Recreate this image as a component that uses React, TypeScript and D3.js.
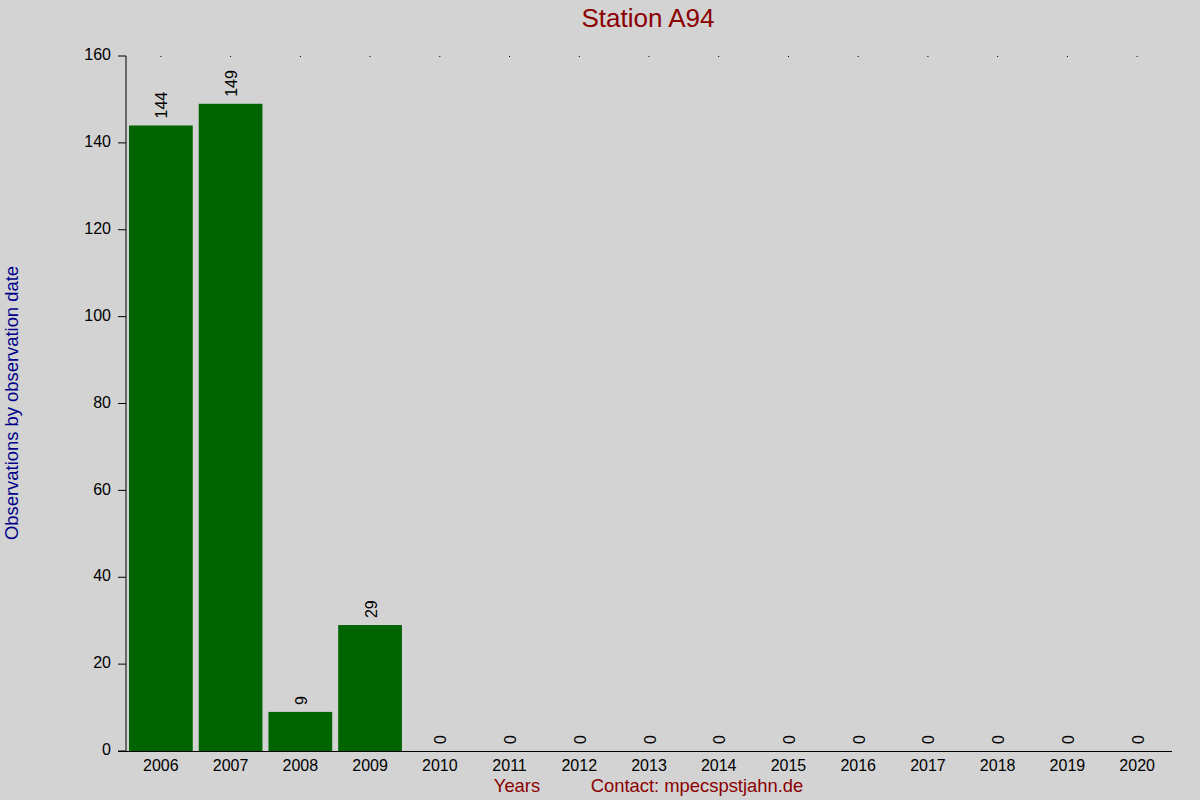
import React from "react";
import * as d3 from "d3";

const years = ["2006","2007","2008","2009","2010","2011","2012","2013","2014","2015","2016","2017","2018","2019","2020"];
const counts = [144, 149, 9, 29, 0, 0, 0, 0, 0, 0, 0, 0, 0, 0, 0];
const yTicks = [0, 20, 40, 60, 80, 100, 120, 140, 160];

const W = 1200, H = 800;
const left = 126, right = 1172, top = 56, bottom = 751;
const FONT = "'Liberation Sans', Arial, sans-serif";

export default function App() {
  const x = d3.scaleBand<string>().domain(years).range([left, right]).paddingInner(0.086).paddingOuter(0.043);
  const y = d3.scaleLinear().domain([0, 160]).range([bottom, top]);
  return (
    <svg width={W} height={H} style={{ position: "absolute", left: 0, top: 0, display: "block" }} fontFamily={FONT}>
      <rect x={0} y={0} width={W} height={H} fill="#d3d3d3" />
      <text x={648} y={27} textAnchor="middle" fontSize={26} fill="#8b0000">Station A94</text>
      {years.map((yr, i) => {
        const bx = x(yr)!;
        const cx = bx + x.bandwidth() / 2;
        const v = counts[i];
        return (
          <g key={yr}>
            {v > 0 && <rect x={bx} y={y(v)} width={x.bandwidth()} height={bottom - y(v)} fill="#006400" />}
            <text transform={`translate(${cx + 6.5},${y(v) - 7}) rotate(-90)`} textAnchor="start" fontSize={16} fill="#000">{v}</text>
            <line x1={cx} x2={cx} y1={top} y2={top + 1} stroke="#000" strokeWidth={1} />
            <text x={cx} y={771} textAnchor="middle" fontSize={16} fill="#000">{yr}</text>
          </g>
        );
      })}
      <line x1={left} x2={left} y1={top} y2={bottom} stroke="#000" strokeWidth={1} />
      <line x1={118} x2={right} y1={bottom + 0.5} y2={bottom + 0.5} stroke="#000" strokeWidth={1} />
      {yTicks.map((t) => (
        <g key={t}>
          <line x1={118} x2={left} y1={y(t)} y2={y(t)} stroke="#000" strokeWidth={1} />
          <text x={111} y={y(t)} textAnchor="end" dominantBaseline="middle" fontSize={16} fill="#000">{t}</text>
        </g>
      ))}
      <text transform={`translate(18,403) rotate(-90)`} textAnchor="middle" fontSize={18.4} fill="#00008b">Observations by observation date</text>
      <text x={517} y={792} textAnchor="middle" fontSize={18.4} fill="#8b0000">Years</text>
      <text x={697} y={792} textAnchor="middle" fontSize={18.4} fill="#8b0000">Contact: mpecspstjahn.de</text>
    </svg>
  );
}
